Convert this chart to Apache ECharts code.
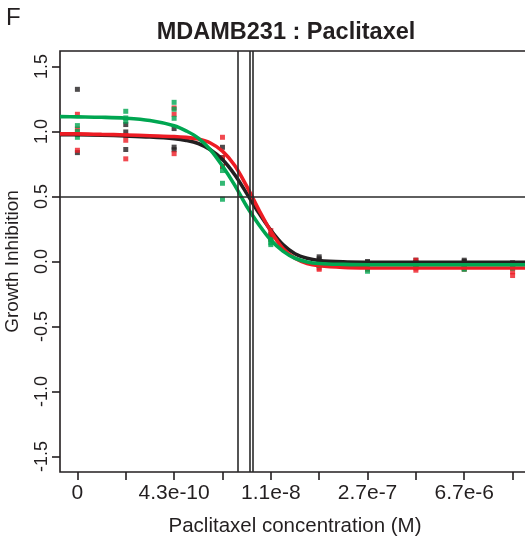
<!DOCTYPE html>
<html>
<head>
<meta charset="utf-8">
<script src="https://cdn.jsdelivr.net/npm/echarts@6/dist/echarts.min.js"></script>
<style>
html,body{margin:0;padding:0;background:#fff;}
#chart{width:525px;height:540px;}
</style>
</head>
<body>
<div id="chart"></div>
<script>
// ---- data ----
var doseIdx = [0, 1, 2, 3, 4, 5, 6, 7, 8, 9];
var xTickPos = [0, 1, 2, 3, 4, 5, 6, 7, 8, 9];
var xLabelPos = [0, 2, 4, 6, 8];
var xTickLabels = ['0', '4.3e-10', '1.1e-8', '2.7e-7', '6.7e-6'];
var yTickPos = [-1.5, -1.0, -0.5, 0.0, 0.5, 1.0, 1.5];

// replicate values per dose (three replicates)
var blackPts = [[1.325, 0.98, 0.838], [1.054, 0.997, 0.862], [1.023, 0.88, 0.86], [0.879, 0.733, 0.80],
  [0.21, 0.19, 0.18], [0.036, 0.02, 0.0], [0.0, -0.01, -0.02], [0.01, -0.01, -0.02], [0.01, 0.0, -0.02], [-0.01, -0.02, -0.03]];
var redPts = [[1.133, 1.02, 0.856], [0.97, 0.933, 0.79], [1.182, 1.133, 0.83], [0.956, 0.797, 0.73],
  [0.238, 0.20, 0.17], [-0.03, -0.05, -0.06], [-0.04, -0.05, -0.06], [0.01, -0.05, -0.067], [-0.04, -0.05, -0.06], [-0.05, -0.08, -0.108]];
var greenPts = [[1.046, 1.0, 0.956], [1.156, 1.105, 1.08], [1.225, 1.172, 1.102], [0.70, 0.602, 0.479],
  [0.169, 0.144, 0.13], [-0.005, -0.02, -0.03], [-0.03, -0.05, -0.075], [-0.02, -0.03, -0.04], [-0.03, -0.05, -0.06], [-0.03, -0.04, -0.05]];

// fitted curves
var curveX = [-0.36, 0, 0.5, 1, 1.5, 2, 2.25, 2.5, 2.75, 3, 3.25, 3.5, 3.75, 4, 4.25, 4.5, 4.75, 5, 5.5, 6, 7, 8, 9, 9.36];
var blackCurve = [0.976, 0.975, 0.972, 0.966, 0.958, 0.945, 0.932, 0.908, 0.86, 0.785, 0.67, 0.525, 0.375, 0.24, 0.13, 0.06, 0.025, 0.008, -0.003, -0.006, -0.007, -0.007, -0.007, -0.007];
var redCurve = [0.982, 0.982, 0.978, 0.974, 0.968, 0.962, 0.955, 0.942, 0.912, 0.849, 0.74, 0.58, 0.40, 0.233, 0.10, 0.025, -0.015, -0.032, -0.045, -0.049, -0.05, -0.05, -0.05, -0.05];
var greenCurve = [1.115, 1.113, 1.11, 1.103, 1.085, 1.045, 1.005, 0.95, 0.86, 0.735, 0.59, 0.425, 0.285, 0.165, 0.08, 0.025, -0.003, -0.015, -0.022, -0.025, -0.025, -0.025, -0.025, -0.025];

// IC50 vertical lines (green, black, red) and the 0.5 level
var ic50 = [3.315, 3.563, 3.634];
var halfLevel = 0.5;

// ---- chart ----
var INK = '#231f20';
var BLACK = '#231f20', RED = '#ed1c24', GREEN = '#00a651';
var FONT = '"Liberation Sans", Arial, Helvetica, sans-serif';

function pts(arr) {
  var out = [];
  arr.forEach(function (reps, i) {
    reps.forEach(function (v) { out.push([doseIdx[i], v]); });
  });
  return out;
}
function curve(ys) {
  return curveX.map(function (x, i) { return [x, ys[i]]; });
}

var chart = echarts.init(document.getElementById('chart'), null, {renderer: 'canvas'});
var lineCommon = {type: 'line', showSymbol: false, symbol: 'none', smooth: 0.35, silent: true, clip: true};
var scatterCommon = {type: 'scatter', symbol: 'rect', symbolSize: 5, silent: true, z: 2};

chart.setOption({
  animation: false,
  backgroundColor: '#ffffff',
  grid: {left: 60, top: 51, width: 470, height: 421, containLabel: false, outerBoundsMode: 'none',
    show: true, borderColor: INK, borderWidth: 1.6, backgroundColor: 'transparent'},
  graphic: [
    {type: 'text', left: 6, top: 6, style: {text: 'F', font: '24px ' + FONT, fill: INK}},
    {type: 'text', x: 286, y: 33, style: {text: 'MDAMB231 : Paclitaxel', font: 'bold 23.5px ' + FONT, fill: INK, textAlign: 'center', textVerticalAlign: 'middle'}}
  ],
  xAxis: {
    type: 'value', min: -0.36, max: 9.36,
    name: 'Paclitaxel concentration (M)', nameLocation: 'middle', nameGap: 44,
    nameTextStyle: {fontFamily: FONT, fontSize: 20.5, color: INK},
    axisLine: {show: false, onZero: false},
    splitLine: {show: false},
    axisTick: {show: true, customValues: xTickPos, length: 8, inside: false, lineStyle: {color: INK, width: 1.6}},
    axisLabel: {show: true, customValues: xLabelPos, margin: 11, fontFamily: FONT, fontSize: 21, color: INK,
      formatter: function (v) { var k = xLabelPos.indexOf(Math.round(v)); return k >= 0 ? xTickLabels[k] : ''; }}
  },
  yAxis: {
    type: 'value', min: -1.62, max: 1.62,
    name: 'Growth Inhibition', nameLocation: 'middle', nameGap: 38, nameRotate: 90,
    nameTextStyle: {fontFamily: FONT, fontSize: 19, color: INK},
    axisLine: {show: false, onZero: false},
    splitLine: {show: false},
    axisTick: {show: true, customValues: yTickPos, length: 8, lineStyle: {color: INK, width: 1.6}},
    axisLabel: {show: true, customValues: yTickPos, rotate: 90, margin: 9, fontFamily: FONT, fontSize: 18, color: INK,
      formatter: function (v) { return v.toFixed(1); }}
  },
  series: [
    Object.assign({}, scatterCommon, {name: 'black pts', data: pts(blackPts), itemStyle: {color: BLACK}}),
    Object.assign({}, scatterCommon, {name: 'red pts', data: pts(redPts), itemStyle: {color: RED}}),
    Object.assign({}, scatterCommon, {name: 'green pts', data: pts(greenPts), itemStyle: {color: GREEN}}),
    Object.assign({}, lineCommon, {name: 'black fit', data: curve(blackCurve), z: 3, lineStyle: {color: BLACK, width: 3.6}}),
    Object.assign({}, lineCommon, {name: 'red fit', data: curve(redCurve), z: 3, lineStyle: {color: RED, width: 3.6}}),
    Object.assign({}, lineCommon, {name: 'green fit', data: curve(greenCurve), z: 3, lineStyle: {color: GREEN, width: 3.6},
      markLine: {
        silent: true, symbol: 'none', animation: false, z: 4,
        label: {show: false},
        lineStyle: {color: '#2a2a2a', width: 1.6, type: 'solid'},
        data: ic50.map(function (x) { return {xAxis: x}; }).concat([{yAxis: halfLevel}])
      }})
  ]
});
</script>
</body>
</html>
